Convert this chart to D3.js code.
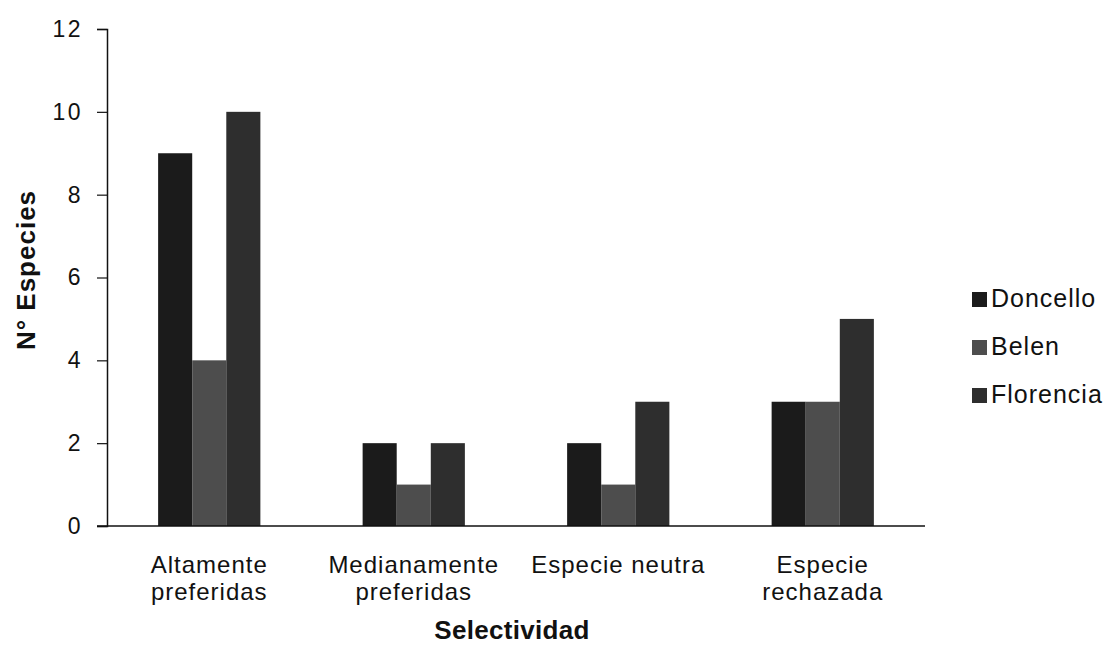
<!DOCTYPE html>
<html>
<head>
<meta charset="utf-8">
<script src="https://cdn.jsdelivr.net/npm/d3@7"></script>
<style>
  body { margin: 0; background: #fff; }
  text { font-family: "Liberation Sans", Arial, sans-serif; fill: #111; }
</style>
</head>
<body>
<div id="chart"></div>
<script>
// data
const CATEGORIES = [["Altamente", "preferidas"], ["Medianamente", "preferidas"], ["Especie neutra"], ["Especie", "rechazada"]];
const SERIES = ["Doncello", "Belen", "Florencia"];
const DONCELLO = [9, 2, 2, 3];
const BELEN = [4, 1, 1, 3];
const FLORENCIA = [10, 2, 3, 5];
const Y_TICKS = [0, 2, 4, 6, 8, 10, 12];

const COLORS = {Doncello: "#1b1b1b", Belen: "#4d4d4d", Florencia: "#2e2e2e"};

// frame
const FRAME_WIDTH = 1110;
const FRAME_HEIGHT = 648;
const MARGINS = {left: 107, right: 185, top: 29, bottom: 122};
const VIS_WIDTH = FRAME_WIDTH - MARGINS.left - MARGINS.right;
const VIS_HEIGHT = FRAME_HEIGHT - MARGINS.top - MARGINS.bottom;

const FRAME = d3.select("#chart")
                .append("svg")
                  .attr("width", FRAME_WIDTH)
                  .attr("height", FRAME_HEIGHT);

const VALUES = {Doncello: DONCELLO, Belen: BELEN, Florencia: FLORENCIA};
const TABLE = CATEGORIES.map((c, i) => ({idx: i, label: c, vals: SERIES.map(s => ({series: s, value: VALUES[s][i]}))}));

// scales
const X_SCALE = d3.scaleBand()
                  .domain(d3.range(CATEGORIES.length))
                  .range([0, VIS_WIDTH])
                  .paddingInner(0.5)
                  .paddingOuter(0.25);

const X_INNER = d3.scaleBand()
                  .domain(SERIES)
                  .range([0, X_SCALE.bandwidth()]);

const Y_SCALE = d3.scaleLinear()
                  .domain([0, 12])
                  .range([VIS_HEIGHT, 0]);

const G = FRAME.append("g")
               .attr("transform", "translate(" + MARGINS.left + "," + MARGINS.top + ")");

// bars
G.selectAll(".grp")
  .data(TABLE)
  .enter()
  .append("g")
    .attr("transform", (d) => "translate(" + X_SCALE(d.idx) + ",0)")
  .selectAll("rect")
  .data((d) => d.vals)
  .enter()
  .append("rect")
    .attr("x", (d) => X_INNER(d.series))
    .attr("y", (d) => Y_SCALE(d.value))
    .attr("width", X_INNER.bandwidth())
    .attr("height", (d) => VIS_HEIGHT - Y_SCALE(d.value))
    .attr("fill", (d) => COLORS[d.series]);

// y axis
const yAxis = G.append("g")
               .call(d3.axisLeft(Y_SCALE).tickValues(Y_TICKS).tickSize(10).tickPadding(14));
yAxis.attr("font-size", null).attr("font-family", null);
yAxis.select(".domain").attr("stroke", "#111").attr("stroke-width", 1.5);
yAxis.selectAll(".tick line").attr("stroke", "#111").attr("stroke-width", 1.2);
yAxis.selectAll(".tick text")
     .style("font-size", "23px")
     .style("letter-spacing", "2.5px")
     .style("fill", "#111");

// x axis line
G.append("line")
  .attr("x1", -10).attr("x2", VIS_WIDTH)
  .attr("y1", VIS_HEIGHT).attr("y2", VIS_HEIGHT)
  .attr("stroke", "#111").attr("stroke-width", 1.5);

// category labels
const catLabels = G.selectAll(".cat")
  .data(TABLE)
  .enter()
  .append("text")
    .attr("class", "cat")
    .attr("text-anchor", "middle")
    .attr("font-size", "24px")
    .attr("letter-spacing", "1px")
    .attr("transform", (d) => "translate(" + (X_SCALE(d.idx) + X_SCALE.bandwidth() / 2) + "," + (VIS_HEIGHT + 47) + ")");
catLabels.selectAll("tspan")
  .data((d) => d.label)
  .enter()
  .append("tspan")
    .attr("x", 0)
    .attr("dy", (d, i) => i === 0 ? 0 : 27)
    .text((d) => d);

// axis titles
FRAME.append("text")
  .attr("x", 512)
  .attr("y", 639)
  .attr("text-anchor", "middle")
  .attr("font-size", "26px")
  .attr("font-weight", "bold")
  .attr("letter-spacing", "0.3px")
  .text("Selectividad");

FRAME.append("text")
  .attr("transform", "translate(35,270) rotate(-90)")
  .attr("text-anchor", "middle")
  .attr("font-size", "26px")
  .attr("font-weight", "bold")
  .attr("letter-spacing", "1px")
  .text("N° Especies");

// legend
const legend = FRAME.selectAll(".leg")
  .data(SERIES)
  .enter()
  .append("g")
    .attr("transform", (d, i) => "translate(972," + (307 + i * 48) + ")");
legend.append("rect")
  .attr("width", 15).attr("height", 15)
  .attr("y", -15)
  .attr("fill", (d) => COLORS[d]);
legend.append("text")
  .attr("x", 19)
  .attr("y", 0)
  .attr("font-size", "25px")
  .attr("letter-spacing", "1px")
  .text((d) => d);
</script>
</body>
</html>
